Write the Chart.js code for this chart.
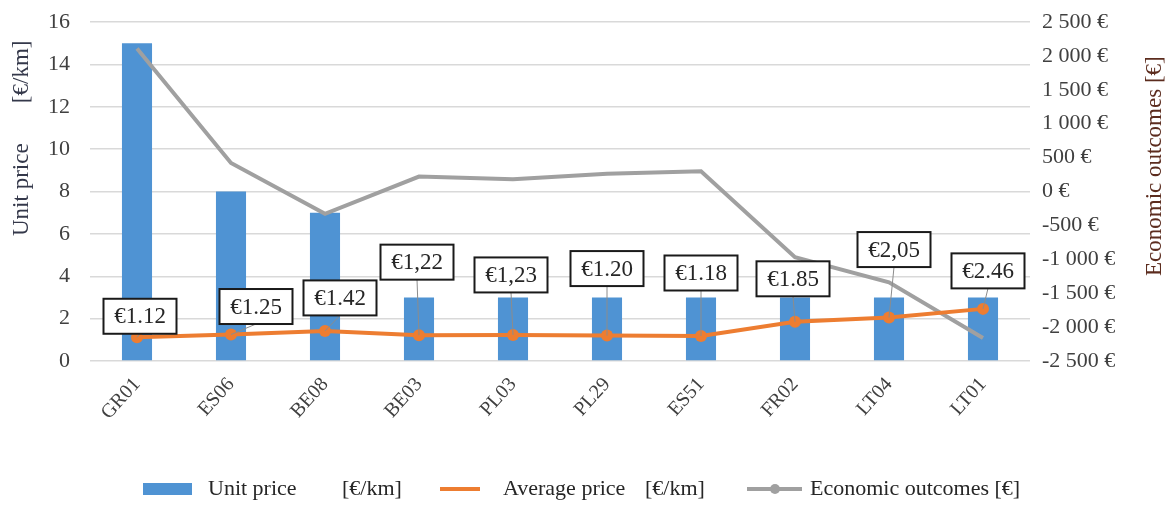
<!DOCTYPE html>
<html>
<head>
<meta charset="utf-8">
<script src="https://cdn.jsdelivr.net/npm/chart.js@4.4.1/dist/chart.umd.min.js"></script>
<style>
  html, body { margin: 0; padding: 0; background: #fff; }
  #wrap { width: 1168px; height: 506px; }
</style>
</head>
<body>
<div id="wrap"><canvas id="grafico"></canvas></div>
<script>
// DADOS
const categorias = ['GR01', 'ES06', 'BE08', 'BE03', 'PL03', 'PL29', 'ES51', 'FR02', 'LT04', 'LT01']
const precoUnitario = [15, 8, 7, 3, 3, 3, 3, 3, 3, 3]
const precoMedio = [1.12, 1.25, 1.42, 1.22, 1.23, 1.20, 1.18, 1.85, 2.05, 2.46]
const rotulosPreco = ['€1.12', '€1.25', '€1.42', '€1,22', '€1,23', '€1.20', '€1.18', '€1.85', '€2,05', '€2.46']
const resultadoEconomico = [2110, 420, -330, 220, 180, 260, 300, -970, -1340, -2160]

// deslocamento das caixas de rotulo (px) em relacao ao ponto
const deslocRotulos = [[3, -21], [25, -28], [15, -33], [-2, -73], [-2, -60], [0, -67], [0, -63], [-2, -43], [5, -68], [5, -38]]

const serif = '"Liberation Serif", "DejaVu Serif", serif'
const corTexto = '#404040'

function formatEuro(v) {
    const s = Math.abs(v).toString().replace(/\B(?=(\d{3})+(?!\d))/g, ' ')
    return (v < 0 ? '-' : '') + s + ' €'
}

const rotulosPlugin = {
    id: 'rotulos',
    afterDatasetsDraw(chart) {
        const ctx = chart.ctx
        const meta = chart.getDatasetMeta(1)
        ctx.save()
        ctx.font = '23px ' + serif
        meta.data.forEach((pt, i) => {
            const cx = pt.x + deslocRotulos[i][0]
            const cy = pt.y + deslocRotulos[i][1]
            const w = 73, h = 35
            // linha de chamada
            ctx.strokeStyle = '#8c8c8c'
            ctx.lineWidth = 1
            ctx.beginPath()
            ctx.moveTo(cx, cy + h / 2)
            ctx.lineTo(pt.x, pt.y)
            ctx.stroke()
            ctx.fillStyle = '#fff'
            ctx.fillRect(cx - w / 2, cy - h / 2, w, h)
            ctx.strokeStyle = '#1a1a1a'
            ctx.lineWidth = 2
            ctx.strokeRect(cx - w / 2, cy - h / 2, w, h)
            ctx.fillStyle = '#262626'
            ctx.textAlign = 'center'
            ctx.textBaseline = 'middle'
            ctx.fillText(rotulosPreco[i], cx, cy + 1)
        })
        ctx.restore()
    }
}

const extrasPlugin = {
    id: 'extras',
    afterDraw(chart) {
        const ctx = chart.ctx
        ctx.save()
        // titulos dos eixos
        ctx.textBaseline = 'middle'
        ctx.textAlign = 'left'
        ctx.save()
        ctx.translate(22, 236)
        ctx.rotate(-Math.PI / 2)
        ctx.fillStyle = '#34384a'
        ctx.font = '23px ' + serif
        ctx.fillText('Unit price       [€/km]', 0, 0)
        ctx.restore()
        ctx.save()
        ctx.translate(1155, 276)
        ctx.rotate(-Math.PI / 2)
        ctx.fillStyle = '#5c2c1e'
        ctx.font = '23px ' + serif
        ctx.fillText('Economic outcomes [€]', 0, 0)
        ctx.restore()

        // legenda
        const ly = 489
        ctx.fillStyle = chart.data.datasets[0].backgroundColor
        ctx.fillRect(143, ly - 6, 49, 12)
        ctx.strokeStyle = chart.data.datasets[1].borderColor
        ctx.lineWidth = 4
        ctx.beginPath(); ctx.moveTo(440, ly); ctx.lineTo(480, ly); ctx.stroke()
        ctx.strokeStyle = chart.data.datasets[2].borderColor
        ctx.beginPath(); ctx.moveTo(747, ly); ctx.lineTo(802, ly); ctx.stroke()
        ctx.fillStyle = chart.data.datasets[2].borderColor
        ctx.beginPath(); ctx.arc(775, ly, 5, 0, Math.PI * 2); ctx.fill()

        ctx.fillStyle = '#262626'
        ctx.font = '22px ' + serif
        ctx.fillText('Unit price', 208, ly)
        ctx.fillText('[€/km]', 342, ly)
        ctx.fillText('Average price', 503, ly)
        ctx.fillText('[€/km]', 645, ly)
        ctx.fillText('Economic outcomes [€]', 810, ly)
        ctx.restore()
    }
}

const dados = {
    labels: categorias,
    datasets: [{
        type: 'bar',
        label: 'Unit price [€/km]',
        data: precoUnitario,
        backgroundColor: '#4f93d3',
        yAxisID: 'y',
        categoryPercentage: 1,
        barPercentage: 0.32,
        order: 3
    }, {
        type: 'line',
        label: 'Average price [€/km]',
        data: precoMedio,
        borderColor: '#ed7d31',
        backgroundColor: '#ed7d31',
        borderWidth: 4,
        pointRadius: 6,
        pointBorderWidth: 0,
        yAxisID: 'y',
        order: 1
    }, {
        type: 'line',
        label: 'Economic outcomes [€]',
        data: resultadoEconomico,
        borderColor: '#a0a0a0',
        backgroundColor: '#a0a0a0',
        borderWidth: 4,
        pointRadius: 0,
        yAxisID: 'y2',
        order: 2
    }]
}

const config = {
    data: dados,
    options: {
        responsive: true,
        maintainAspectRatio: false,
        animation: false,
        layout: { padding: { top: 22, bottom: 0, left: 0, right: 0 } },
        plugins: {
            legend: { display: false },
            tooltip: { enabled: false }
        },
        scales: {
            x: {
                grid: { display: false },
                border: { display: false },
                ticks: {
                    color: corTexto,
                    font: { family: serif, size: 20 },
                    minRotation: 48,
                    maxRotation: 48,
                    padding: 4
                },
                afterFit(scale) {
                    scale.height = 145
                    scale.paddingLeft = 0
                    scale.paddingRight = 0
                }
            },
            y: {
                position: 'left',
                min: 0,
                max: 16,
                grid: { color: '#d9d9d9', lineWidth: 1.5, drawTicks: false },
                border: { display: false },
                ticks: {
                    stepSize: 2,
                    color: corTexto,
                    font: { family: serif, size: 22 },
                    padding: 20
                },
                afterFit(scale) {
                    scale.width = 90
                    scale.paddingTop = 0
                    scale.paddingBottom = 0
                }
            },
            y2: {
                position: 'right',
                min: -2500,
                max: 2500,
                grid: { display: false, drawTicks: false },
                border: { display: false },
                ticks: {
                    stepSize: 500,
                    color: corTexto,
                    font: { family: serif, size: 22 },
                    padding: 12,
                    callback: (v) => formatEuro(v)
                },
                afterFit(scale) {
                    scale.width = 138
                    scale.paddingTop = 0
                    scale.paddingBottom = 0
                }
            }
        }
    },
    plugins: [rotulosPlugin, extrasPlugin]
}

var grafico = new Chart(document.getElementById('grafico'), config)
</script>
</body>
</html>
